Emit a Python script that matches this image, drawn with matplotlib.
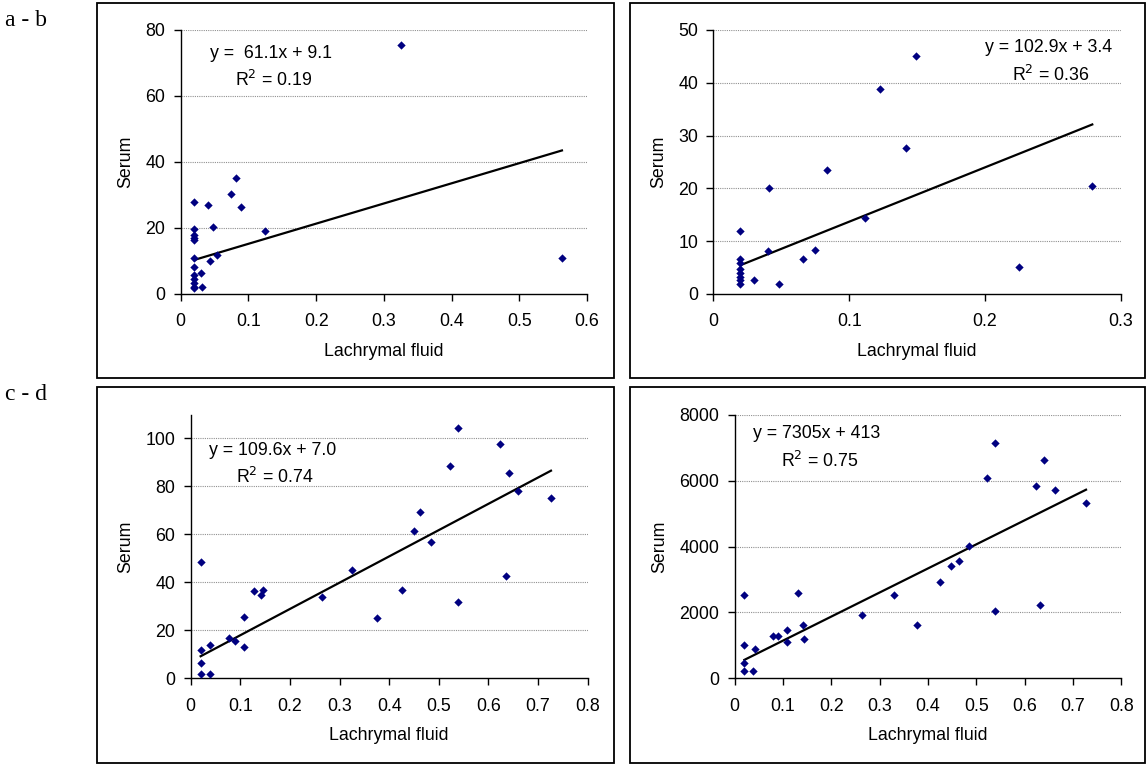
import matplotlib
matplotlib.use('Agg')
import matplotlib.pyplot as plt
from matplotlib.patches import Rectangle
import numpy as np

plt.rcParams['font.family'] = ['Liberation Sans', 'DejaVu Sans']

W, H = 1147, 764

# panel a
xa = [0.325, 0.563, 0.02, 0.040, 0.075, 0.081, 0.089, 0.048, 0.124, 0.02, 0.02, 0.02, 0.02,
      0.02, 0.054, 0.043, 0.02, 0.030, 0.02, 0.02, 0.02, 0.02, 0.032, 0.02]
ya = [75.4, 10.9, 27.8, 27.0, 30.3, 35.2, 26.4, 20.3, 19.0, 19.7, 17.9, 16.9, 16.3,
      10.9, 11.9, 10.1, 8.1, 6.3, 5.7, 4.4, 3.2, 2.2, 2.1, 1.8]
# panel b
xb = [0.149, 0.123, 0.142, 0.084, 0.041, 0.279, 0.112, 0.02, 0.040, 0.075, 0.066, 0.225,
      0.030, 0.048, 0.02, 0.02, 0.02, 0.02, 0.02, 0.02, 0.02]
yb = [45.1, 38.8, 27.7, 23.5, 20.0, 20.4, 14.3, 11.9, 8.2, 8.3, 6.6, 5.2,
      2.7, 1.9, 6.6, 5.8, 4.7, 3.9, 3.3, 2.7, 1.9]
# panel c
xc = [0.538, 0.623, 0.522, 0.641, 0.660, 0.726, 0.463, 0.449, 0.484, 0.02, 0.326, 0.635,
      0.426, 0.128, 0.145, 0.142, 0.264, 0.539, 0.107, 0.376, 0.078, 0.089, 0.039, 0.02,
      0.107, 0.02, 0.02, 0.039]
yc = [104.2, 97.9, 88.6, 85.7, 77.9, 75.0, 69.3, 61.5, 56.7, 48.4, 45.1, 42.6,
      36.7, 36.3, 36.9, 34.8, 33.8, 31.8, 25.6, 25.2, 17.0, 15.7, 13.9, 12.0,
      12.9, 6.5, 1.8, 1.8]
# panel d
xd = [0.539, 0.640, 0.522, 0.623, 0.662, 0.727, 0.485, 0.465, 0.448, 0.425, 0.02, 0.130,
      0.329, 0.632, 0.539, 0.264, 0.378, 0.142, 0.108, 0.079, 0.090, 0.108, 0.144, 0.02,
      0.041, 0.02, 0.02, 0.038]
yd = [7150, 6625, 6090, 5846, 5704, 5310, 4005, 3550, 3408, 2913, 2528, 2600,
      2528, 2215, 2033, 1922, 1608, 1608, 1466, 1284, 1284, 1112, 1183, 1011,
      900, 475, 233, 233]

fits = [(61.1, 9.1), (102.9, 3.4), (109.6, 7.0), (7305, 413)]
eq_texts = ['y =  61.1x + 9.1', 'y = 102.9x + 3.4', 'y = 109.6x + 7.0', 'y = 7305x + 413']
r2_texts = ['R$^2$ = 0.19', 'R$^2$ = 0.36', 'R$^2$ = 0.74', 'R$^2$ = 0.75']

xlims = [(0, 0.6), (0, 0.3), (0, 0.8), (0, 0.8)]
xticks = [np.arange(0, 0.61, 0.1), np.arange(0, 0.31, 0.1), np.arange(0, 0.81, 0.1), np.arange(0, 0.81, 0.1)]
ylims = [(0, 80), (0, 50), (0, 110), (0, 8000)]
yticks = [range(0, 81, 20), range(0, 51, 10), range(0, 101, 20), range(0, 8001, 2000)]

FS = 12.8


def fx(px):
    return px / W


def fy(py):
    return 1 - py / H


fig = plt.figure(figsize=(W / 100, H / 100), dpi=100)

# axes rectangles in pixels: left, right, top, bottom
rects = [(180.7, 587, 30, 294), (713.3, 1120.8, 30, 294),
         (190.7, 587.7, 414.5, 678.3), (734.7, 1121.3, 414.7, 678.3)]
boxes = [(97, 614, 3, 378), (630, 1145, 3, 378), (97, 614, 387, 763), (630, 1145, 387, 763)]
eq_pos = [(210, 53, 235, 80), (985, 48, 1012, 75), (209, 450, 236, 477), (753, 433, 781, 461)]

xs = [xa, xb, xc, xd]
ys = [ya, yb, yc, yd]

for i in range(4):
    b = boxes[i]
    fig.patches.append(Rectangle((fx(b[0]), fy(b[3])), fx(b[1] - b[0]), (b[3] - b[2]) / H,
                                 transform=fig.transFigure, fill=False, lw=1.3, ec='black'))
    l, r, t, bt = rects[i]
    ax = fig.add_axes([fx(l), fy(bt), fx(r - l), (bt - t) / H])
    ax.scatter(xs[i], ys[i], marker='D', s=18, color='#000080', zorder=3, linewidths=0)
    m, c = fits[i]
    x0, x1 = min(xs[i]), max(xs[i])
    ax.plot([x0, x1], [m * x0 + c, m * x1 + c], color='black', lw=1.6, zorder=2)
    ax.set_xlim(xlims[i])
    ax.set_ylim(ylims[i])
    ax.set_xticks(xticks[i])
    ax.set_xticklabels(['0'] + ['%.1f' % v for v in xticks[i][1:]])
    ax.set_yticks(list(yticks[i]))
    for v in yticks[i]:
        if v > 0:
            ax.axhline(v, color='#909090', lw=0.8, ls=(0, (1, 1)), zorder=1)
    for s in ['top', 'right']:
        ax.spines[s].set_visible(False)
    for s in ['left', 'bottom']:
        ax.spines[s].set_color('black')
        ax.spines[s].set_linewidth(1.0)
    ax.tick_params(direction='out', length=5, width=1, labelsize=FS, colors='black')
    ax.tick_params(axis='x', pad=9)
    ax.tick_params(axis='y', pad=6)
    ax.set_xlabel('Lachrymal fluid', fontsize=FS, labelpad=9)
    ax.set_ylabel('Serum', fontsize=FS, labelpad=8)
    ax.patch.set_alpha(0)
    e = eq_pos[i]
    fig.text(fx(e[0]), fy(e[1]), eq_texts[i], fontsize=FS, va='center', ha='left')
    fig.text(fx(e[2]), fy(e[3]), r2_texts[i], fontsize=FS, va='center', ha='left')

fig.text(fx(5), fy(20), 'a - b', fontsize=17, family='Liberation Serif', va='center', ha='left')
fig.text(fx(5), fy(395), 'c - d', fontsize=17, family='Liberation Serif', va='center', ha='left')

fig.savefig('out.png', dpi=100)
